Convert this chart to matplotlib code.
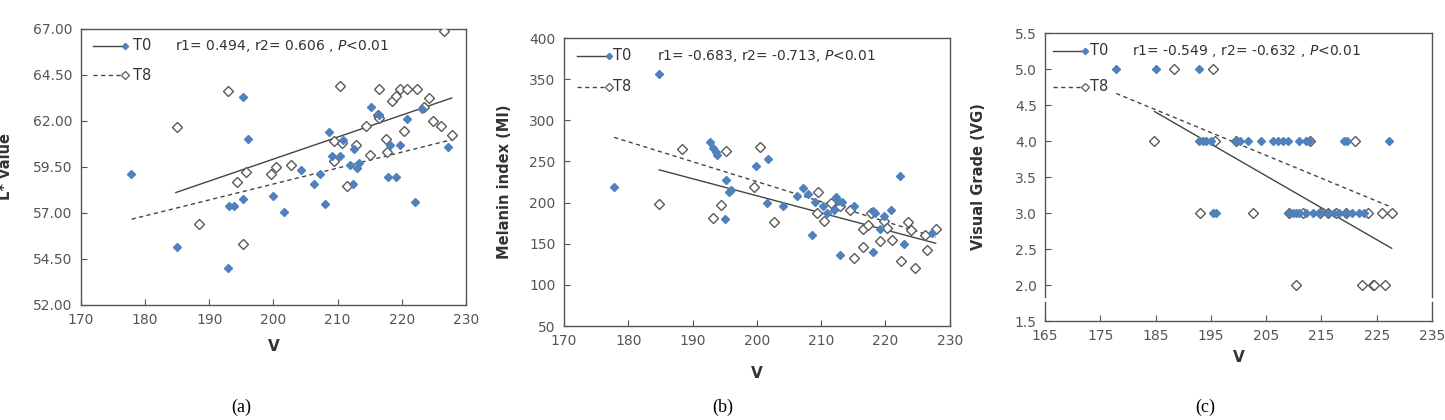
import numpy as np
import matplotlib
matplotlib.use("Agg")
import matplotlib.pyplot as plt

# ---- panel (a): L* value ----
a_t0_x = [177.8, 184.9, 192.9, 193.1, 193.8, 195.3, 195.3, 196.1, 199.9, 201.7, 204.3, 206.4,
          207.2, 208.1, 208.7, 209.1, 210.4, 210.8, 211.9, 212.4, 212.6, 213.1, 213.4, 215.2,
          216.5, 217.9, 218.2, 219.1, 219.8, 220.9, 222.1, 223.1, 227.2]
a_t0_y = [59.11, 55.17, 53.98, 57.39, 57.39, 63.30, 57.75, 61.00, 57.93, 57.06, 59.33, 58.60,
          59.13, 57.48, 61.41, 60.07, 60.07, 60.98, 59.62, 58.57, 60.49, 59.44, 59.74, 62.74,
          62.30, 58.98, 60.67, 58.93, 60.67, 62.10, 57.62, 62.66, 60.60]
a_t8_x = [184.9, 188.4, 193.0, 194.4, 195.3, 195.8, 199.6, 200.4, 202.7, 209.5, 209.4, 210.4,
          210.7, 211.5, 212.9, 214.5, 215.1, 216.3, 216.5, 216.4, 217.7, 217.5, 218.5, 219.1,
          219.8, 220.3, 220.9, 222.4, 223.4, 224.3, 224.8, 226.1, 226.6, 227.8]
a_t8_y = [61.65, 56.39, 63.61, 58.69, 55.32, 59.25, 59.11, 59.49, 59.60, 60.89, 59.80, 63.92,
          60.80, 58.44, 60.67, 61.70, 60.13, 62.34, 63.73, 62.16, 60.31, 61.01, 63.10, 63.37,
          63.75, 61.43, 63.75, 63.75, 62.76, 63.25, 62.01, 61.74, 66.87, 61.25]
a_fit0_x, a_fit0_y = [184.8, 227.8], [58.11, 63.25]
a_fit8_x, a_fit8_y = [177.9, 227.8], [56.66, 60.98]

# ---- panel (b): Melanin index ----
b_t0_x = [177.8, 184.8, 192.7, 193.1, 193.6, 193.8, 195.2, 195.1, 195.7, 195.9, 199.8, 201.6,
          201.8, 204.1, 206.3, 207.1, 208.0, 208.6, 209.0, 210.3, 210.9, 212.0, 212.3, 212.6,
          213.2, 213.0, 215.1, 218.1, 218.1, 218.3, 219.1, 219.7, 220.9, 222.2, 222.9, 227.2]
b_t0_y = [219.5, 355.8, 273.5, 266.0, 261.0, 258.0, 227.5, 180.6, 212.3, 214.7, 245.0, 200.0,
          252.4, 196.4, 208.1, 218.2, 210.1, 160.8, 201.0, 196.4, 187.2, 191.3, 206.2, 202.2,
          200.6, 136.4, 195.4, 189.2, 140.5, 187.2, 167.8, 184.0, 191.3, 231.7, 150.2, 162.8]
b_t8_x = [184.8, 188.3, 193.1, 194.4, 195.2, 199.6, 200.5, 202.6, 209.5, 209.4, 210.5, 211.6,
          212.9, 214.5, 215.1, 216.5, 216.5, 217.3, 217.7, 219.1, 219.7, 220.3, 221.0, 222.4,
          223.5, 224.0, 224.6, 226.1, 226.5, 227.9]
b_t8_y = [198.0, 265.5, 181.8, 197.2, 262.6, 219.5, 267.9, 176.8, 212.3, 187.2, 177.1, 200.0,
          195.4, 191.3, 133.2, 167.8, 145.5, 173.1, 187.2, 152.8, 177.1, 168.9, 154.9, 129.3,
          176.3, 166.2, 120.5, 160.8, 142.9, 167.8]
b_fit0_x, b_fit0_y = [184.8, 227.8], [239.8, 150.6]
b_fit8_x, b_fit8_y = [177.8, 227.8], [279.3, 158.0]

# ---- panel (c): Visual Grade ----
c_t0_x = [177.9, 185.0, 192.8,
          192.8, 193.5, 194.2, 195.1, 199.6, 200.2, 201.7, 204.1, 206.2, 207.1, 208.0, 208.9,
          210.9, 212.2, 212.7, 219.1, 219.7, 227.3,
          195.4, 196.0, 209.2, 209.8, 210.4, 211.0, 212.2, 213.4, 214.6, 216.2, 217.3, 218.2,
          219.4, 220.6, 221.8, 222.7]
c_t0_y = [5.0, 5.0, 5.0,
          4.0, 4.0, 4.0, 4.0, 4.0, 4.0, 4.0, 4.0, 4.0, 4.0, 4.0, 4.0,
          4.0, 4.0, 4.0, 4.0, 4.0, 4.0,
          3.0, 3.0, 3.0, 3.0, 3.0, 3.0, 3.0, 3.0, 3.0, 3.0, 3.0, 3.0,
          3.0, 3.0, 3.0, 3.0]
c_t8_x = [188.4, 195.3,
          184.8, 195.7, 199.6, 212.9, 221.0,
          193.0, 202.6, 209.2, 211.7, 214.7, 216.2, 217.7, 219.5, 223.4, 226.0, 227.7,
          210.4, 222.3, 224.3, 224.5, 226.5]
c_t8_y = [5.0, 5.0,
          4.0, 4.0, 4.0, 4.0, 4.0,
          3.0, 3.0, 3.0, 3.0, 3.0, 3.0, 3.0, 3.0, 3.0, 3.0, 3.0,
          2.0, 2.0, 2.0, 2.0, 2.0]
c_fit0_x, c_fit0_y = [184.8, 227.7], [4.41, 2.51]
c_fit8_x, c_fit8_y = [177.9, 227.7], [4.66, 3.08]

blue = "#4F81BD"
grey = "#5a5a5a"
line_col = "#444444"
tick_col = "#555555"

plt.rcParams['font.family'] = ['DejaVu Sans']

fig = plt.figure(figsize=(14.45, 4.2), dpi=100)


def draw_panel(rect, t0x, t0y, t8x, t8y, f0x, f0y, f8x, f8y, xlim, xticks, ylim, yticks,
               yfmt, ylabel, ylab_x, stat_text, leg, xlab_y, caption_x):
    ax = fig.add_axes(rect)
    ax.plot(f8x, f8y, color=line_col, lw=1.0, ls=(0, (3, 2.5)), zorder=2)
    ax.plot(f0x, f0y, color=line_col, lw=1.0, zorder=2)
    ax.plot(t8x, t8y, 'D', ms=4.6, mfc='white', mec=grey, mew=1.0, ls='none', zorder=3)
    ax.plot(t0x, t0y, 'D', ms=3.8, mfc=blue, mec=blue, ls='none', zorder=4)

    ax.set_xlim(*xlim)
    ax.set_ylim(*ylim)
    ax.set_xticks(xticks)
    ax.set_yticks(yticks)
    ax.set_yticklabels([yfmt.format(v) for v in yticks])
    ax.tick_params(direction='in', length=4, width=0.8, colors=tick_col,
                   labelsize=10, labelcolor=tick_col, pad=6)
    for s in ax.spines.values():
        s.set_color("#555555")
        s.set_linewidth(1.0)

    ax.set_xlabel("V", fontsize=11, fontweight='bold', color="#333333")
    ax.xaxis.set_label_coords(0.5, xlab_y)
    ax.xaxis.label.set_va('center')
    ax.set_ylabel(ylabel, fontsize=10.5, fontweight='bold', color="#333333")
    ax.yaxis.set_label_coords(ylab_x, 0.5)
    ax.yaxis.label.set_va('center')

    # legend drawn like the spreadsheet original: line with marker at its right end
    lx0, lx1, tx, y0, y8, sx = leg
    ax.plot([lx0, lx1], [y0, y0], color=line_col, lw=1.0, transform=ax.transAxes, clip_on=False)
    ax.plot([lx1], [y0], 'D', ms=3.2, mfc=blue, mec=blue, transform=ax.transAxes, clip_on=False)
    ax.text(tx, y0, "T0", transform=ax.transAxes, fontsize=10.5, va='center', color="#333333")
    ax.plot([lx0, lx1], [y8, y8], color=line_col, lw=1.0, ls=(0, (3, 2.5)),
            transform=ax.transAxes, clip_on=False)
    ax.plot([lx1], [y8], 'D', ms=3.6, mfc='white', mec=grey, mew=0.9,
            transform=ax.transAxes, clip_on=False)
    ax.text(tx, y8, "T8", transform=ax.transAxes, fontsize=10.5, va='center', color="#333333")
    ax.text(sx, y0, stat_text, transform=ax.transAxes, fontsize=10, va='center', color="#333333")

    fig.text(caption_x, 0.031, caption, fontsize=13, family='Liberation Serif',
             ha='center', va='center')
    return ax


caption = "(a)"
ax_a = draw_panel([0.056, 0.274, 0.2664, 0.657], a_t0_x, a_t0_y, a_t8_x, a_t8_y,
                  a_fit0_x, a_fit0_y, a_fit8_x, a_fit8_y,
                  (170, 230), np.arange(170, 231, 10), (52, 67), np.arange(52, 67.1, 2.5),
                  "{:.2f}", "L* value", -0.197,
                  r"r1= 0.494, r2= 0.606 , $P$<0.01",
                  (0.031, 0.114, 0.135, 0.939, 0.833, 0.244), -0.152, 0.167)

caption = "(b)"
ax_b = draw_panel([0.3903, 0.2238, 0.267, 0.6857], b_t0_x, b_t0_y, b_t8_x, b_t8_y,
                  b_fit0_x, b_fit0_y, b_fit8_x, b_fit8_y,
                  (170, 230), np.arange(170, 231, 10), (50, 400), np.arange(50, 401, 50),
                  "{:.0f}", "Melanin index (MI)", -0.155,
                  r"r1= -0.683, r2= -0.713, $P$<0.01",
                  (0.034, 0.117, 0.127, 0.9385, 0.831, 0.241), -0.165, 0.500)

caption = "(c)"
ax_c = draw_panel([0.7232, 0.2357, 0.2678, 0.6857], c_t0_x, c_t0_y, c_t8_x, c_t8_y,
                  c_fit0_x, c_fit0_y, c_fit8_x, c_fit8_y,
                  (165, 235), np.arange(165, 236, 10), (1.5, 5.5), np.arange(1.5, 5.51, 0.5),
                  "{:.1f}", "Visual Grade (VG)", -0.173,
                  r"r1= -0.549 , r2= -0.632 , $P$<0.01",
                  (0.021, 0.103, 0.116, 0.9385, 0.8135, 0.225), -0.128, 0.834)

# axis break on the side spines of panel (c)
ax_c.spines['left'].set_visible(False)
ax_c.spines['right'].set_visible(False)
for xs in (0, 1):
    ax_c.plot([xs, xs], [1.834, 5.5], color="#555555", lw=1.0,
              transform=ax_c.get_yaxis_transform(), clip_on=False)
    ax_c.plot([xs, xs], [1.5, 1.765], color="#555555", lw=1.0,
              transform=ax_c.get_yaxis_transform(), clip_on=False)

plt.savefig("out.png", dpi=100)
